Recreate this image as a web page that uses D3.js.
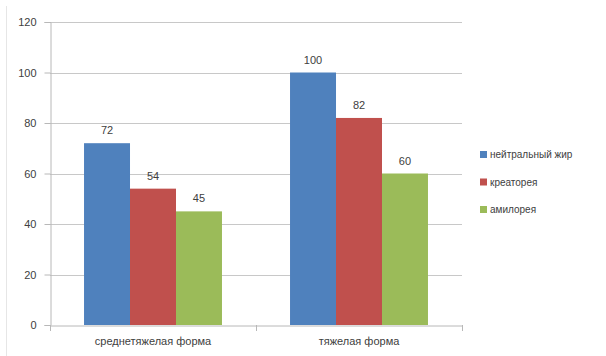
<!DOCTYPE html>
<html>
<head>
<meta charset="utf-8">
<script src="https://cdn.jsdelivr.net/npm/d3@7"></script>
<style>
  html, body { margin: 0; padding: 0; background: #fff; }
  svg { display: block; }
  text { font-family: "Liberation Sans", "DejaVu Sans", sans-serif; fill: #404040; }
</style>
</head>
<body>
<svg id="chart" width="606" height="356"></svg>
<script>
// Categories, series and values
const categories = ["среднетяжелая форма", "тяжелая форма"];
const seriesNames = ["нейтральный жир", "креаторея", "амилорея"];
const seriesColors = ["#4F81BD", "#C0504D", "#9BBB59"];
const neutralFat = [72, 100];
const creatorrhea = [54, 82];
const amylorrhea = [45, 60];
const yTicks = [0, 20, 40, 60, 80, 100, 120];

const seriesValues = [neutralFat, creatorrhea, amylorrhea];

const svg = d3.select("#chart");
const margin = { left: 50, right: 144, top: 22, bottom: 31 };
const W = 606, H = 356;
const plotW = W - margin.left - margin.right;

const x0 = d3.scaleBand().domain(categories).range([margin.left, margin.left + plotW]).paddingInner(0).paddingOuter(0);
const x1 = d3.scaleBand().domain(seriesNames).range([0, x0.bandwidth()]).paddingInner(0).paddingOuter(0.74);
const y = d3.scaleLinear().domain([0, 120]).range([H - margin.bottom, margin.top]);

// faint outer frame
svg.append("line").attr("x1", 6.5).attr("x2", 6.5).attr("y1", 6).attr("y2", 356)
  .attr("stroke", "#e6e6e6").attr("stroke-width", 1);

// horizontal gridlines
svg.append("g").selectAll("line").data(yTicks.filter(t => t > 0)).join("line")
  .attr("x1", margin.left).attr("x2", margin.left + plotW)
  .attr("y1", d => Math.round(y(d)) + 0.5).attr("y2", d => Math.round(y(d)) + 0.5)
  .attr("stroke", "#c8c8c8").attr("stroke-width", 1);

// y axis
const yAxis = d3.axisLeft(y).tickValues(yTicks).tickSize(6).tickPadding(8);
const gy = svg.append("g").attr("transform", `translate(${margin.left + 0.5},0)`).call(yAxis);
gy.select(".domain").attr("stroke", "#b8b8b8");
gy.selectAll(".tick line").attr("stroke", "#b8b8b8");
gy.selectAll(".tick text").attr("font-size", 11).style("fill", "#404040");

// bars
const groups = svg.append("g").selectAll("g").data(categories).join("g")
  .attr("transform", d => `translate(${x0(d)},0)`);

groups.each(function(cat, ci) {
  const g = d3.select(this);
  const rows = seriesNames.map((s, si) => ({ s, si, v: seriesValues[si][ci] }));
  g.selectAll("rect").data(rows).join("rect")
    .attr("x", d => x1(d.s))
    .attr("width", x1.bandwidth())
    .attr("y", d => y(d.v))
    .attr("height", d => y(0) - y(d.v))
    .attr("fill", d => seriesColors[d.si]);
  g.selectAll("text.val").data(rows).join("text")
    .attr("class", "val")
    .attr("x", d => x1(d.s) + x1.bandwidth() / 2)
    .attr("y", d => y(d.v) - 9)
    .attr("text-anchor", "middle")
    .attr("font-size", 11)
    .text(d => d.v);
});

// x axis
const xAxis = d3.axisBottom(x0).tickSize(0).tickPadding(12);
const gx = svg.append("g").attr("transform", `translate(0,${y(0) + 0.5})`).call(xAxis);
gx.select(".domain").attr("stroke", "#b8b8b8");
gx.selectAll(".tick text").attr("font-size", 11).style("fill", "#404040");
// category separators
svg.append("g").selectAll("line").data([margin.left, margin.left + x0.bandwidth(), margin.left + plotW]).join("line")
  .attr("x1", d => Math.round(d) + 0.5).attr("x2", d => Math.round(d) + 0.5)
  .attr("y1", y(0)).attr("y2", y(0) + 6)
  .attr("stroke", "#b8b8b8");

// legend
const legend = svg.append("g").attr("transform", "translate(480,151)");
const li = legend.selectAll("g").data(seriesNames).join("g")
  .attr("transform", (d, i) => `translate(0,${i * 27.5})`);
li.append("rect").attr("width", 7).attr("height", 7).attr("fill", (d, i) => seriesColors[i]);
li.append("text").attr("x", 10).attr("y", 7).attr("font-size", 10).text(d => d);
</script>
</body>
</html>
